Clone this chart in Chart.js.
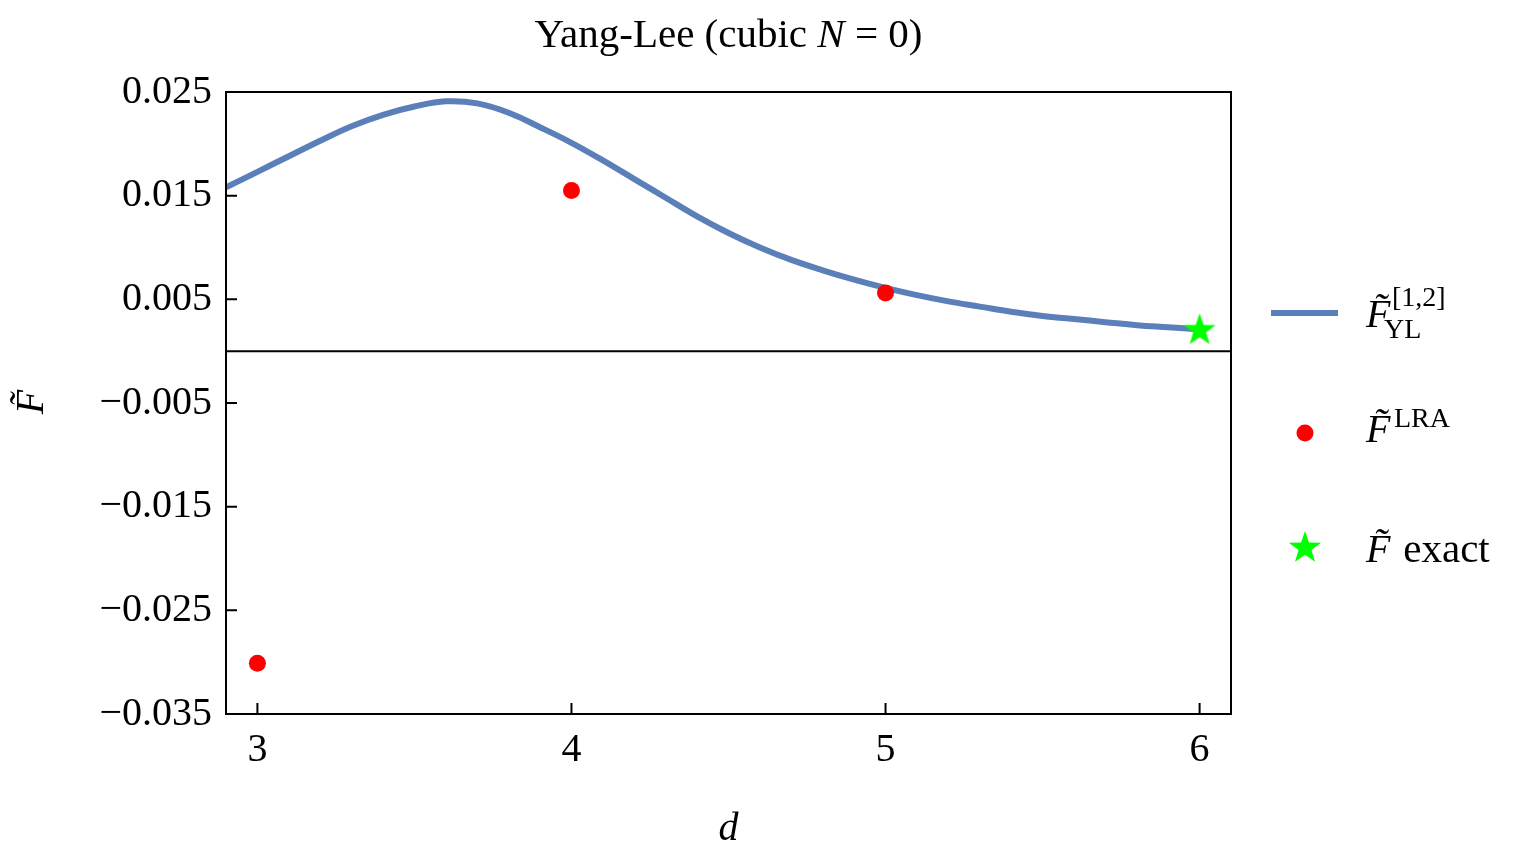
<!DOCTYPE html>
<html>
<head>
<meta charset="utf-8">
<script src="https://cdn.jsdelivr.net/npm/chart.js@4/dist/chart.umd.min.js"></script>
<style>
  body { margin: 0; background: #fff; }
</style>
</head>
<body>
<canvas id="ylChart" width="1526" height="865"></canvas>
<script>
// Curve F_YL^[1,2]
const curveD = [2.9, 3.0, 3.1, 3.2, 3.3, 3.4, 3.5, 3.6, 3.7, 3.8, 3.9, 4.0, 4.1, 4.2, 4.3, 4.4,
                4.5, 4.6, 4.7, 4.8, 4.9, 5.0, 5.1, 5.2, 5.3, 5.4, 5.5, 5.6, 5.7, 5.8, 5.9, 6.0];
const curveF = [0.0158, 0.0173, 0.0188, 0.0203, 0.0217, 0.0228, 0.0236, 0.0241, 0.0239, 0.0230,
                0.0216, 0.0201, 0.0184, 0.0166, 0.0148, 0.0130, 0.0114, 0.0100, 0.0088, 0.0078,
                0.0069, 0.0061, 0.0054, 0.0048, 0.0043, 0.0038, 0.0034, 0.0031, 0.0028, 0.0025,
                0.0023, 0.0021];
// LRA points
const lraD = [3, 4, 5];
const lraF = [-0.0301, 0.0155, 0.0056];
// exact value
const exactD = [6];
const exactF = [0.0020];

const xTicks = [3, 4, 5, 6];
const yTicks = [-0.035, -0.025, -0.015, -0.005, 0.005, 0.015, 0.025];

const FONT = "'Liberation Serif', serif";
const BLUE = '#5b7fb8';

// filled five-point star marker
function makeStar(r, color) {
    const c = document.createElement('canvas');
    c.width = c.height = r * 2 + 2;
    const g = c.getContext('2d');
    g.beginPath();
    for (let i = 0; i < 10; i++) {
        const rad = i % 2 === 0 ? r : r * 0.4;
        const a = -Math.PI / 2 + i * Math.PI / 5;
        g.lineTo(r + 1 + rad * Math.cos(a), r + 1 + rad * Math.sin(a));
    }
    g.closePath();
    g.fillStyle = color;
    g.fill();
    return c;
}
const starImg = makeStar(17, '#00ff00');

const pts = (xs, ys) => xs.map((x, i) => ({ x: x, y: ys[i] }));

// frame, inward ticks, zero line, title, axis labels, legend
const decor = {
    id: 'decor',
    afterDatasetsDraw(chart) {
        const { ctx, chartArea: a, scales: { x, y } } = chart;
        ctx.save();
        ctx.strokeStyle = '#000';
        ctx.lineWidth = 2;
        ctx.strokeRect(a.left, a.top, a.right - a.left, a.bottom - a.top);
        ctx.beginPath();
        const y0 = y.getPixelForValue(0);
        ctx.moveTo(a.left, y0); ctx.lineTo(a.right, y0);
        xTicks.forEach(v => {
            const px = x.getPixelForValue(v);
            ctx.moveTo(px, a.bottom); ctx.lineTo(px, a.bottom - 11);
        });
        yTicks.forEach(v => {
            const py = y.getPixelForValue(v);
            ctx.moveTo(a.left, py); ctx.lineTo(a.left + 11, py);
        });
        ctx.stroke();

        ctx.fillStyle = '#000';
        ctx.textBaseline = 'alphabetic';
        // title
        const cx = (a.left + a.right) / 2;
        const t1 = 'Yang-Lee (cubic ', t2 = 'N', t3 = '\u2005=\u20050)';
        ctx.font = '41px ' + FONT;
        const w1 = ctx.measureText(t1).width, w3 = ctx.measureText(t3).width;
        ctx.font = 'italic 41px ' + FONT;
        const w2 = ctx.measureText(t2).width;
        let tx = cx - (w1 + w2 + w3) / 2;
        ctx.textAlign = 'left';
        ctx.font = '41px ' + FONT;
        ctx.fillText(t1, tx, 47);
        ctx.font = 'italic 41px ' + FONT;
        ctx.fillText(t2, tx + w1, 47);
        ctx.font = '41px ' + FONT;
        ctx.fillText(t3, tx + w1 + w2, 47);

        // x label
        ctx.textAlign = 'center';
        ctx.font = 'italic 40px ' + FONT;
        ctx.fillText('d', cx, 840);

        // y label
        ctx.save();
        ctx.translate(43, 402);
        ctx.rotate(-Math.PI / 2);
        ctx.fillText('F\u0303', 0, 0);
        ctx.restore();

        // legend
        ctx.textAlign = 'left';
        ctx.strokeStyle = BLUE;
        ctx.lineWidth = 6;
        ctx.beginPath();
        ctx.moveTo(1271, 313); ctx.lineTo(1338, 313);
        ctx.stroke();
        ctx.fillStyle = '#ff0000';
        ctx.beginPath();
        ctx.arc(1305, 433, 8.5, 0, Math.PI * 2);
        ctx.fill();
        ctx.drawImage(starImg, 1305 - starImg.width / 2, 548 - starImg.height / 2);

        ctx.fillStyle = '#000';
        ctx.font = 'italic 40px ' + FONT;
        ctx.fillText('F\u0303', 1366, 327);
        ctx.fillText('F\u0303', 1366, 442);
        ctx.fillText('F\u0303', 1366, 562);
        ctx.font = '28px ' + FONT;
        ctx.fillText('[1,2]', 1392, 306);
        ctx.fillText('YL', 1384, 338);
        ctx.fillText('LRA', 1394, 427);
        ctx.font = '41px ' + FONT;
        ctx.fillText(' exact', 1393, 562);
        ctx.restore();
    }
};

new Chart(document.getElementById('ylChart').getContext('2d'), {
    type: 'scatter',
    data: {
        datasets: [{
            label: 'F_YL',
            data: pts(curveD, curveF),
            showLine: true,
            borderColor: BLUE,
            borderWidth: 6,
            pointRadius: 0,
            tension: 0.4,
            order: 2
        }, {
            label: 'F_LRA',
            data: pts(lraD, lraF),
            backgroundColor: '#ff0000',
            borderWidth: 0,
            pointRadius: 8.5,
            order: 1
        }, {
            label: 'F exact',
            data: pts(exactD, exactF),
            pointStyle: starImg,
            order: 0
        }]
    },
    options: {
        responsive: false,
        animation: false,
        layout: { padding: { left: 0, top: 92, right: 295, bottom: 0 } },
        plugins: {
            legend: { display: false },
            tooltip: { enabled: false }
        },
        scales: {
            x: {
                type: 'linear',
                min: 2.9,
                max: 6.1,
                grid: { display: false, drawTicks: false },
                border: { display: false },
                afterBuildTicks: s => { s.ticks = xTicks.map(v => ({ value: v })); },
                afterFit: s => { s.height = 151; },
                ticks: {
                    color: '#000',
                    padding: 12,
                    maxRotation: 0,
                    font: { family: FONT, size: 40 },
                    callback: v => String(v)
                }
            },
            y: {
                type: 'linear',
                min: -0.035,
                max: 0.025,
                grid: { display: false, drawTicks: false },
                border: { display: false },
                afterBuildTicks: s => { s.ticks = yTicks.map(v => ({ value: v })); },
                afterFit: s => { s.width = 226; },
                ticks: {
                    color: '#000',
                    padding: 14,
                    font: { family: FONT, size: 40 },
                    callback: v => v.toFixed(3).replace('-', '\u2212')
                }
            }
        }
    },
    plugins: [decor]
});
</script>
</body>
</html>
